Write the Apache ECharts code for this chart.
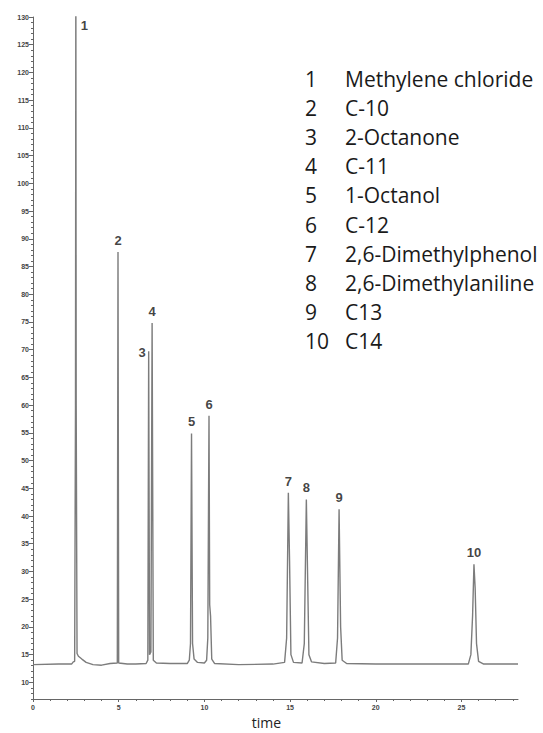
<!DOCTYPE html>
<html>
<head>
<meta charset="utf-8">
<script src="https://cdn.jsdelivr.net/npm/echarts@6/dist/echarts.min.js"></script>
<style>
  html, body { margin: 0; padding: 0; background: #fff; }
  #chart { width: 543px; height: 733px; }
</style>
</head>
<body>
<div id="chart"></div>
<script>
// chromatogram trace
const traceTime = [0.0, 1.5, 2.25, 2.35, 2.43, 2.48, 2.5, 2.52, 2.57, 2.65, 2.85, 3.1, 3.5, 4.0, 4.5,
  4.92, 4.96, 5.0, 5.5, 6.0, 6.6, 6.7, 6.75, 6.8, 6.88, 6.95, 7.02, 7.2, 8.0,
  9.0, 9.12, 9.19, 9.25, 9.31, 9.4, 9.6, 10.0, 10.13, 10.2, 10.27, 10.31, 10.36, 10.43, 10.6,
  12.0, 14.0, 14.68, 14.8, 14.9, 14.97, 15.05, 15.2, 15.7, 15.83, 15.95, 16.03, 16.1, 16.25,
  17.0, 17.66, 17.77, 17.86, 17.95, 18.04, 18.3, 20.0, 25.4, 25.55, 25.65, 25.73, 25.8, 25.88,
  26.0, 26.3, 28.3];
const traceSignal = [13.2, 13.3, 13.3, 13.7, 13.8, 60, 140, 60, 15.2, 14.7, 14.2, 13.6, 13.2, 13.1, 13.4,
  13.5, 87.6, 13.5, 13.3, 13.3, 13.4, 14, 69.7, 15, 15.5, 74.8, 14, 13.5, 13.4,
  13.4, 14, 17, 54.9, 17, 14.2, 13.6, 13.5, 14, 18, 58.1, 24, 22, 14.2, 13.4,
  13.2, 13.3, 13.6, 18, 44.2, 32, 15, 13.6, 13.5, 17, 43.0, 28, 15, 13.7,
  13.4, 13.5, 18, 41.2, 20, 14, 13.4, 13.3, 13.3, 15, 22, 31.3, 27, 17,
  13.8, 13.3, 13.3];

// peaks
const peakNo = ['1', '2', '3', '4', '5', '6', '7', '8', '9', '10'];
const peakTime = [2.5, 4.96, 6.75, 6.95, 9.25, 10.27, 14.9, 15.95, 17.86, 25.73];
const peakTop = [140, 87.6, 69.7, 74.8, 54.9, 58.1, 44.2, 43.0, 41.2, 31.3];
const compounds = ['Methylene chloride', 'C-10', '2-Octanone', 'C-11', '1-Octanol', 'C-12',
  '2,6-Dimethylphenol', '2,6-Dimethylaniline', 'C13', 'C14'];

// axes
const xTicks = [0, 5, 10, 15, 20, 25];
const yTicks = [10, 15, 20, 25, 30, 35, 40, 45, 50, 55, 60, 65, 70, 75, 80, 85, 90, 95, 100, 105, 110, 115, 120, 125, 130];
const xMin = 0, xMax = 28.3, yMin = 7, yMax = 130;

const xMinor = [];
for (let v = 0; v <= 28; v++) xMinor.push(v);
const yMinor = [];
for (let v = 7; v <= 130; v++) yMinor.push(v);

const chart = echarts.init(document.getElementById('chart'), null, { renderer: 'svg' });

const tickFont = { fontFamily: 'Liberation Sans, Arial, sans-serif', fontSize: 7, fontWeight: 'bold', color: '#444' };
const axisGray = '#666';

const labelData = peakTime.map((t, i) => {
  const item = { value: [t, Math.min(peakTop[i], yMax)], name: peakNo[i] };
  if (i === 0) item.label = { position: 'right', distance: 5, offset: [0, 8] };
  if (i === 2) item.label = { position: 'left', distance: 3, offset: [0, 1] };
  return item;
});

// legend text on the right
const legendItems = [];
compounds.forEach((c, i) => {
  const y = 80 + i * 29.2;
  legendItems.push({
    type: 'text', left: 305, top: y - 12,
    style: { text: peakNo[i], fontFamily: 'Open Sans, sans-serif', fontSize: 21, fill: '#1a1a1a' }
  });
  legendItems.push({
    type: 'text', left: 345, top: y - 12,
    style: { text: c, fontFamily: 'Open Sans, sans-serif', fontSize: 21, fill: '#1a1a1a' }
  });
});

const option = {
  backgroundColor: '#fff',
  animation: false,
  grid: { left: 33, right: 25, top: 17, bottom: 34, containLabel: false, outerBoundsMode: 'none' },
  xAxis: [{
    type: 'value', min: xMin, max: xMax,
    name: 'time', nameLocation: 'middle', nameGap: 16,
    nameTextStyle: { fontFamily: 'Open Sans, sans-serif', fontSize: 14, color: '#222', padding: [0, 18, 0, 0] },
    axisLine: { lineStyle: { color: axisGray, width: 1 } },
    axisTick: { customValues: xTicks, length: 3, lineStyle: { color: axisGray } },
    axisLabel: { customValues: xTicks, margin: 5, ...tickFont },
    splitLine: { show: false }
  }, {
    type: 'value', min: xMin, max: xMax, position: 'bottom',
    axisLine: { show: false },
    axisTick: { customValues: xMinor, length: 2, lineStyle: { color: axisGray } },
    axisLabel: { show: false },
    splitLine: { show: false }
  }],
  yAxis: [{
    type: 'value', min: yMin, max: yMax,
    axisLine: { show: true, lineStyle: { color: axisGray, width: 1 } },
    axisTick: { show: true, customValues: yTicks, length: 4, lineStyle: { color: axisGray } },
    axisLabel: { customValues: yTicks, margin: 4, ...tickFont },
    splitLine: { show: false }
  }, {
    type: 'value', min: yMin, max: yMax, position: 'left',
    axisLine: { show: false },
    axisTick: { show: true, customValues: yMinor, length: 2, lineStyle: { color: axisGray } },
    axisLabel: { show: false },
    splitLine: { show: false }
  }],
  series: [{
    type: 'line',
    data: traceTime.map((t, i) => [t, traceSignal[i]]),
    showSymbol: false,
    symbol: 'none',
    clip: true,
    lineStyle: { color: '#7c7c7c', width: 1.4 }
  }, {
    type: 'scatter',
    data: labelData,
    symbolSize: 0,
    silent: true,
    clip: false,
    label: {
      show: true, position: 'top', distance: 5,
      formatter: p => p.name,
      fontFamily: 'Liberation Sans Narrow, Liberation Sans, Arial, sans-serif',
      fontSize: 13, fontWeight: 'bold', color: '#111'
    }
  }],
  graphic: legendItems
};

chart.setOption(option);
</script>
</body>
</html>
